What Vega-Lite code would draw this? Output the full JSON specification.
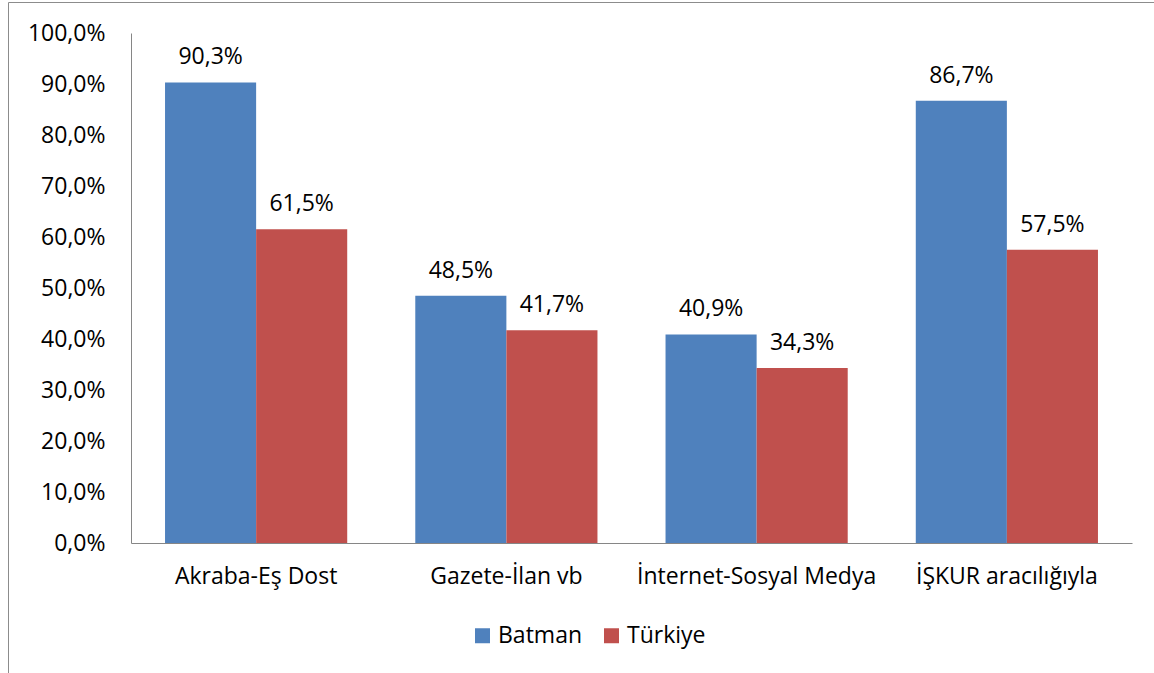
{
  "$schema": "https://vega.github.io/schema/vega-lite/v6.json",
  "autosize": "none",
  "padding": {"left": 8, "top": 2, "right": 0, "bottom": 0},
  "width": 1160,
  "height": 690,
  "background": "white",
  "config": {
    "locale": {"number": {"decimal": ",", "thousands": ".", "grouping": [3], "currency": ["", " ₺"]}},
    "view": {"stroke": "#8c8c8c", "strokeWidth": 1},
    "font": "Open Sans"
  },
  "data": {
    "values": [
      {"kategori": "Akraba-Eş Dost", "seri": "Batman", "deger": 0.903},
      {"kategori": "Akraba-Eş Dost", "seri": "Türkiye", "deger": 0.615},
      {"kategori": "Gazete-İlan vb", "seri": "Batman", "deger": 0.485},
      {"kategori": "Gazete-İlan vb", "seri": "Türkiye", "deger": 0.417},
      {"kategori": "İnternet-Sosyal Medya", "seri": "Batman", "deger": 0.409},
      {"kategori": "İnternet-Sosyal Medya", "seri": "Türkiye", "deger": 0.343},
      {"kategori": "İŞKUR aracılığıyla", "seri": "Batman", "deger": 0.867},
      {"kategori": "İŞKUR aracılığıyla", "seri": "Türkiye", "deger": 0.575}
    ]
  },
  "encoding": {
    "x": {
      "field": "kategori",
      "type": "nominal",
      "sort": null,
      "scale": {"range": [123, 1124], "paddingInner": 0.272, "paddingOuter": 0.136},
      "axis": {
        "title": null,
        "offset": -149,
        "domainColor": "#868686",
        "domainWidth": 1,
        "ticks": false,
        "tickSize": 0,
        "grid": false,
        "labelAngle": 0,
        "labelFontSize": 23,
        "labelColor": "black",
        "labelPadding": 22,
        "labelBaseline": "top",
        "labelLimit": 0,
        "labelOverlap": false
      }
    },
    "xOffset": {"field": "seri", "type": "nominal", "sort": ["Batman", "Türkiye"]},
    "y": {
      "field": "deger",
      "type": "quantitative",
      "scale": {"domain": [0, 1], "range": [541, 31], "nice": false},
      "axis": {
        "title": null,
        "offset": -123,
        "values": [0, 0.1, 0.2, 0.3, 0.4, 0.5, 0.6, 0.7, 0.8, 0.9, 1],
        "format": ".1%",
        "domainColor": "#868686",
        "domainWidth": 1,
        "ticks": false,
        "tickSize": 0,
        "grid": false,
        "labelFontSize": 23,
        "labelColor": "black",
        "labelPadding": 26,
        "labelBaseline": "middle"
      }
    }
  },
  "layer": [
    {
      "mark": {"type": "bar"},
      "encoding": {
        "color": {
          "field": "seri",
          "type": "nominal",
          "scale": {"domain": ["Batman", "Türkiye"], "range": ["#4F81BD", "#C0504D"]},
          "legend": {
            "title": null,
            "orient": "none",
            "legendX": 463,
            "legendY": 622,
            "direction": "horizontal",
            "padding": 0,
            "symbolType": "square",
            "symbolSize": 225,
            "symbolStrokeWidth": 0,
            "symbolOpacity": 1,
            "labelFontSize": 23,
            "labelColor": "black",
            "labelOffset": 4,
            "columnPadding": 17
          }
        }
      }
    },
    {
      "mark": {"type": "text", "fontSize": 23, "color": "black", "baseline": "alphabetic", "align": "center", "dy": -18},
      "encoding": {
        "text": {"field": "deger", "type": "quantitative", "format": ".1%"}
      }
    }
  ]
}
